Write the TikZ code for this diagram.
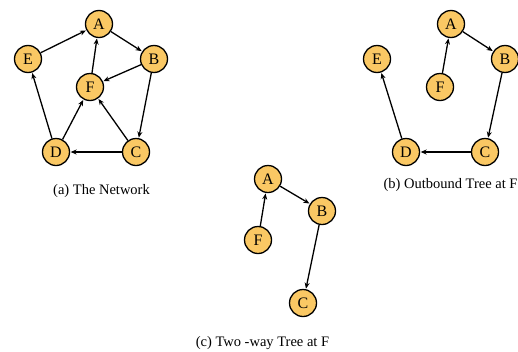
\documentclass[tikz,border=0pt]{standalone}
\usepackage{fontspec}
\setmainfont{Liberation Serif}
\usetikzlibrary{arrows.meta}
\definecolor{nodefill}{HTML}{FAC864}
\tikzset{
  vtx/.style={circle, draw=black, line width=1.3pt, fill=nodefill, minimum size=27pt, inner sep=0pt, font=\fontsize{16}{16}\selectfont},
  arr/.style={line width=1.3pt, -{Stealth[length=6pt,width=5pt]}, shorten >=0.5pt},
  captxt/.style={font=\fontsize{14.5}{14.5}\selectfont}
}
\begin{document}
\begin{tikzpicture}[x=1pt,y=-1pt]
\useasboundingbox (0,0) rectangle (518,351);
% (a)
\node[vtx] (aA) at (99,24) {A};
\node[vtx] (aE) at (28,59) {E};
\node[vtx] (aB) at (154,59) {B};
\node[vtx] (aF) at (90,87) {F};
\node[vtx] (aD) at (56,152) {D};
\node[vtx] (aC) at (136,152) {C};
\draw[arr] (aE) -- (aA);
\draw[arr] (aA) -- (aB);
\draw[arr] (aB) -- (aF);
\draw[arr] (aF) -- (aA);
\draw[arr] (aC) -- (aF);
\draw[arr] (aD) -- (aF);
\draw[arr] (aD) -- (aE);
\draw[arr] (aC) -- (aD);
\draw[arr] (aB) -- (aC);
\node[captxt] (capa) at (101.5,191) {(a) The Network};
% (b)
\node[vtx] (bA) at (451,24) {A};
\node[vtx] (bE) at (377,59) {E};
\node[vtx] (bB) at (505,59) {B};
\node[vtx] (bF) at (440,87) {F};
\node[vtx] (bD) at (406,152) {D};
\node[vtx] (bC) at (485,152) {C};
\draw[arr] (bA) -- (bB);
\draw[arr] (bF) -- (bA);
\draw[arr] (bB) -- (bC);
\draw[arr] (bC) -- (bD);
\draw[arr] (bD) -- (bE);
\node[captxt] (capb) at (450.5,185) {(b) Outbound Tree at F};
% (c)
\node[vtx] (cA) at (268,179) {A};
\node[vtx] (cB) at (322,211) {B};
\node[vtx] (cF) at (258,240) {F};
\node[vtx] (cC) at (303,303) {C};
\draw[arr] (cA) -- (cB);
\draw[arr] (cF) -- (cA);
\draw[arr] (cB) -- (cC);
\node[captxt] (capc) at (262.5,343) {(c) Two -way Tree at F};
\end{tikzpicture}
\end{document}
